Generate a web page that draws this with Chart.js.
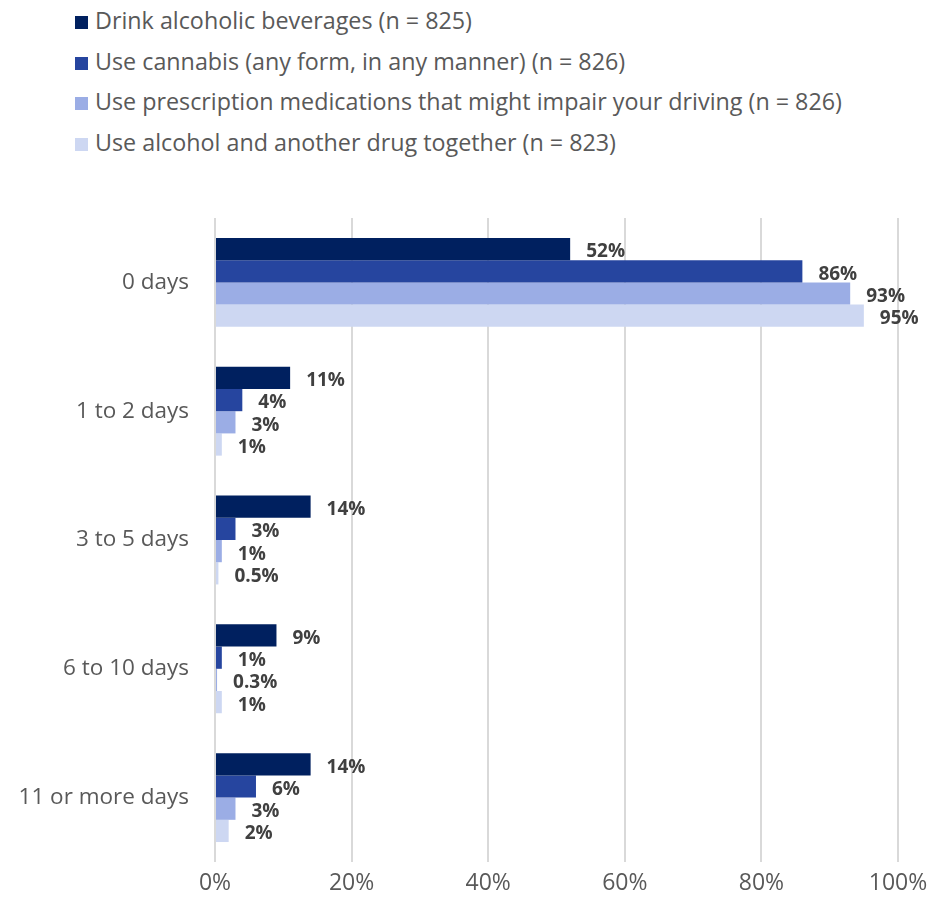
<!DOCTYPE html>
<html lang="en">
<head>
  <meta charset="UTF-8">
  <title>Days of substance use</title>
  <script src="https://cdn.jsdelivr.net/npm/chart.js"></script>
  <style>
    body {
      margin: 0;
      background: #fff;
      font-family: 'Open Sans', sans-serif;
    }
    .wrap {
      position: relative;
      width: 942px;
      height: 909px;
    }
    #legend {
      position: absolute;
      left: 75px;
      top: 0;
      margin: 0;
      padding: 0;
      list-style: none;
    }
    #legend li {
      height: 40.7px;
      line-height: 40px;
      font-size: 23.3px;
      color: #595959;
      white-space: nowrap;
    }
    #legend span {
      display: inline-block;
      width: 13px;
      height: 13px;
      margin-right: 7px;
      vertical-align: 0px;
    }
    canvas { position: absolute; left: 0; top: 0; }
  </style>
</head>
<body>
  <div class="wrap">
    <ul id="legend"></ul>
    <canvas id="chart" width="942" height="909"></canvas>
  </div>

  <script>
    // Categories and series (percent of respondents)
    const days = ['0 days', '1 to 2 days', '3 to 5 days', '6 to 10 days', '11 or more days'];
    const seriesNames = [
      'Drink alcoholic beverages (n = 825)',
      'Use cannabis (any form, in any manner) (n = 826)',
      'Use prescription medications that might impair your driving (n = 826)',
      'Use alcohol and another drug together (n = 823)'
    ];
    const alcohol = [52, 11, 14, 9, 14];
    const cannabis = [86, 4, 3, 1, 6];
    const prescription = [93, 3, 1, 0.3, 3];
    const alcoholPlusDrug = [95, 1, 0.5, 1, 2];
    const xTicks = [0, 20, 40, 60, 80, 100];

    const colors = ['#00205f', '#26459f', '#9badE5', '#cdd7f2'];
    const seriesValues = [alcohol, cannabis, prescription, alcoholPlusDrug];

    // legend list above the chart
    const legendEl = document.getElementById('legend');
    seriesNames.forEach((name, i) => {
      const li = document.createElement('li');
      li.innerHTML = `<span style="background:${colors[i]}"></span>${name}`;
      legendEl.appendChild(li);
    });

    // value labels to the right of each bar
    const barLabels = {
      id: 'barLabels',
      afterDatasetsDraw(chart) {
        const ctx = chart.ctx;
        ctx.save();
        ctx.font = 'bold 19px "Open Sans", sans-serif';
        ctx.fillStyle = '#404040';
        ctx.textBaseline = 'middle';
        ctx.textAlign = 'left';
        chart.data.datasets.forEach((ds, di) => {
          chart.getDatasetMeta(di).data.forEach((bar, i) => {
            ctx.fillText(ds.data[i] + '%', bar.x + 16, bar.y + 3);
          });
        });
        ctx.restore();
      }
    };

    new Chart(document.getElementById('chart'), {
      type: 'bar',
      data: {
        labels: days,
        datasets: seriesValues.map((vals, i) => ({
          label: seriesNames[i],
          data: vals,
          backgroundColor: colors[i],
          categoryPercentage: 0.69,
          barPercentage: 1
        }))
      },
      options: {
        indexAxis: 'y',
        responsive: false,
        animation: false,
        layout: { padding: { top: 218, right: 44, left: 0, bottom: 0 } },
        plugins: {
          legend: { display: false },
          tooltip: { enabled: false }
        },
        scales: {
          x: {
            min: 0,
            max: 100,
            afterBuildTicks: scale => { scale.ticks = xTicks.map(v => ({ value: v })); },
            afterFit: scale => { scale.height = 47; },
            grid: { color: '#d9d9d9', lineWidth: 2, drawTicks: false },
            border: { display: false },
            ticks: {
              padding: 8,
              color: '#595959',
              font: { family: 'Open Sans', size: 23 },
              callback: v => v + '%'
            }
          },
          y: {
            afterFit: scale => { scale.width = 215; },
            grid: { display: false, drawTicks: false },
            border: { display: false },
            ticks: {
              padding: 26,
              color: '#595959',
              font: { family: 'Open Sans', size: 22.5 }
            }
          }
        }
      },
      plugins: [barLabels]
    });
  </script>
</body>
</html>
